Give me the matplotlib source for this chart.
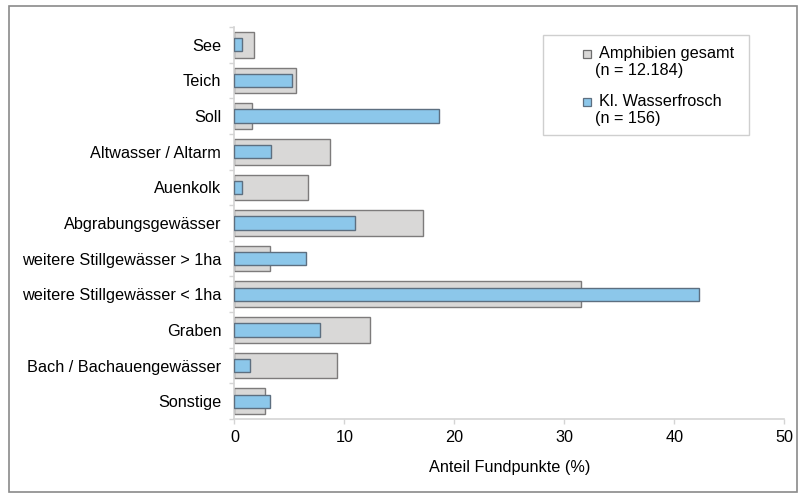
import matplotlib
matplotlib.use("Agg")
import matplotlib.pyplot as plt
from matplotlib.patches import Rectangle
import numpy as np

plt.rcParams['font.family'] = ['Liberation Sans', 'DejaVu Sans']

categories = ["See", "Teich", "Soll", "Altwasser / Altarm", "Auenkolk",
              "Abgrabungsgewässer", "weitere Stillgewässer > 1ha",
              "weitere Stillgewässer < 1ha", "Graben", "Bach / Bachauengewässer",
              "Sonstige"]
amphibien_gesamt = [1.8, 5.55, 1.55, 8.65, 6.65, 17.1, 3.2, 31.5, 12.3, 9.35, 2.8]
wasserfrosch = [0.7, 5.2, 18.6, 3.3, 0.7, 10.95, 6.5, 42.2, 7.75, 1.4, 3.25]
xticks = [0, 10, 20, 30, 40, 50]
legend_labels = ["Amphibien gesamt\n(n = 12.184)", "Kl. Wasserfrosch\n(n = 156)"]
xlabel = "Anteil Fundpunkte (%)"

W, H = 803, 497
fig = plt.figure(figsize=(W / 100, H / 100), dpi=100)
ax = fig.add_axes([234.5 / W, 1 - 419 / H, 550 / W, 392 / H])

grey_fc, grey_ec = "#d9d8d7", "#7d7b7b"
blue_fc, blue_ec = "#8cc7ea", "#5d6f80"
axis_c = "#d4d4d4"
fs = 11.7

y = np.arange(len(categories))
ax.barh(y, amphibien_gesamt, height=0.72, color=grey_fc, edgecolor=grey_ec, linewidth=1.0, zorder=2)
ax.barh(y, wasserfrosch, height=0.37, color=blue_fc, edgecolor=blue_ec, linewidth=1.0, zorder=3)

ax.set_ylim(len(categories) - 0.5, -0.5)
ax.set_xlim(0, 50)
ax.set_yticks(y)
ax.set_yticklabels(categories, fontsize=fs)
ax.set_yticks(np.arange(-0.5, len(categories)), minor=True)
ax.tick_params(axis='y', which='major', length=0, pad=9.5)
ax.tick_params(axis='y', which='minor', length=3.6, color=axis_c, width=1)
ax.set_xticks(xticks)
ax.set_xticklabels([str(t) for t in xticks], fontsize=fs)
ax.tick_params(axis='x', length=3.6, color=axis_c, width=1, pad=4)
ax.set_xlabel(xlabel, fontsize=fs, labelpad=11)

for s in ['top', 'right']:
    ax.spines[s].set_visible(False)
for s in ['left', 'bottom']:
    ax.spines[s].set_color(axis_c)
    ax.spines[s].set_linewidth(1.2)

# outer frame
fig.patches.append(Rectangle((9 / W, 1 - 492 / H), 788 / W, 486 / H,
                             transform=fig.transFigure, fill=False,
                             edgecolor="#8a8a8a", linewidth=1.2))

# legend box (manual)
fig.patches.append(Rectangle((543 / W, 1 - 135 / H), 206 / W, 100 / H,
                             transform=fig.transFigure, fill=True, facecolor="white",
                             edgecolor="#cfcfcf", linewidth=1.0, zorder=5))
for i, (lab, fc, ec) in enumerate(zip(legend_labels, [grey_fc, blue_fc], ["#6e6e6e", "#5d6f80"])):
    yc = 53.5 + i * 48
    fig.patches.append(Rectangle((583 / W, 1 - (yc + 4) / H), 8 / W, 8 / H,
                                 transform=fig.transFigure, facecolor=fc,
                                 edgecolor=ec, linewidth=0.9, zorder=6))
    first, second = lab.split("\n")
    fig.text(599 / W, 1 - yc / H, first, fontsize=fs, va='center', ha='left', zorder=7)
    fig.text(595 / W, 1 - (yc + 16.5) / H, second, fontsize=fs, va='center', ha='left', zorder=7)

fig.savefig("out.png", dpi=100)
